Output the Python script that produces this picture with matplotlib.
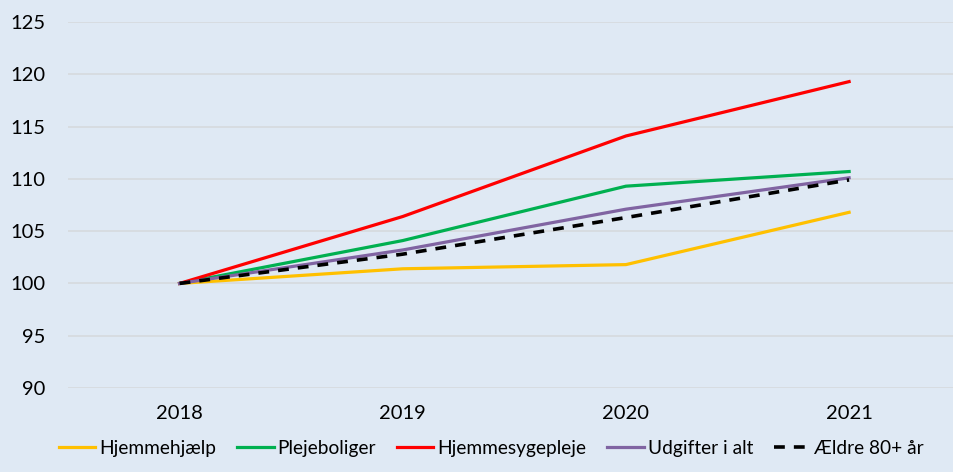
import matplotlib.pyplot as plt
import numpy as np

plt.rcParams['font.family'] = ['Lato', 'DejaVu Sans']

years = ['2018', '2019', '2020', '2021']
hjemmehjaelp = [100, 101.4, 101.8, 106.8]
plejeboliger = [100, 104.1, 109.3, 110.7]
hjemmesygepleje = [100, 106.4, 114.1, 119.3]
udgifter = [100, 103.2, 107.1, 110.1]
aeldre = [100, 102.8, 106.3, 109.9]

bg = '#DFE9F4'
fig = plt.figure(figsize=(9.54, 4.72), dpi=100, facecolor=bg)
ax = fig.add_axes([68 / 954, 84 / 472, 1 - 68 / 954, 366 / 472])
ax.set_facecolor(bg)

x = np.arange(len(years))
lw = 2.3
ax.plot(x, hjemmehjaelp, color='#FFC000', lw=lw, label='Hjemmehjælp')
ax.plot(x, plejeboliger, color='#00B050', lw=lw, label='Plejeboliger')
ax.plot(x, hjemmesygepleje, color='#FF0000', lw=lw, label='Hjemmesygepleje')
ax.plot(x, udgifter, color='#8064A2', lw=lw, label='Udgifter i alt')
ax.plot(x, aeldre, color='black', lw=2.6, ls=(0, (3, 2.5)), label='Ældre 80+ år')

ax.set_xlim(-0.5, 3.47)
ax.set_ylim(90, 125)
ax.set_yticks(range(90, 126, 5))
ax.set_xticks(x)
ax.set_xticklabels(years)
ax.yaxis.grid(True, color='#D6DADE', lw=1.2)
ax.set_axisbelow(True)
for s in ax.spines.values():
    s.set_visible(False)
ax.tick_params(length=0, labelsize=14.5, colors='black')
ax.tick_params(axis='y', pad=16)
ax.tick_params(axis='x', pad=12)

fig.legend(loc='lower center', bbox_to_anchor=(0.515, -0.005), ncol=5, frameon=False,
           fontsize=13.8, handlelength=1.9, handletextpad=0.2, columnspacing=1.1)

fig.savefig('out.png', dpi=100, facecolor=bg)
